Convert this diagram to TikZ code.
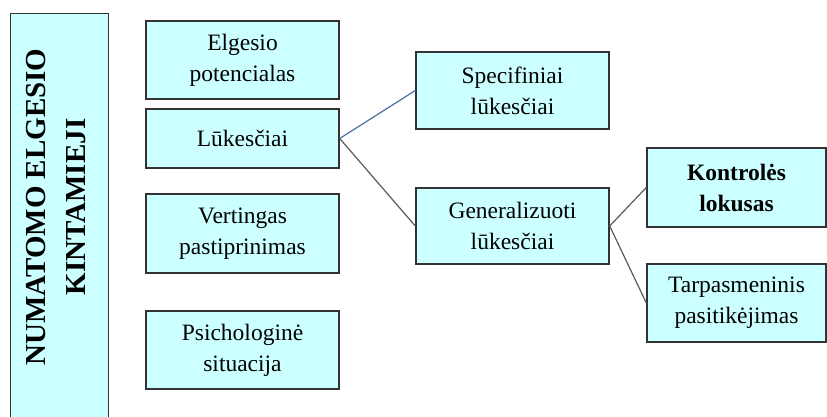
\documentclass[tikz,border=0pt]{standalone}
\usepackage{fontspec}
\setmainfont{Liberation Serif}
\definecolor{boxfill}{HTML}{CCFFFF}
\definecolor{boxline}{HTML}{333333}
\definecolor{blueline}{HTML}{4A6FA0}
\definecolor{grayline}{HTML}{5A5A5A}
\tikzset{
  cbox/.style={draw=boxline, fill=boxfill, line width=1.4pt, rectangle, align=center,
    inner sep=0pt, font=\fontsize{23.5}{31}\selectfont},
  wbox/.style={cbox, minimum width=193pt, minimum height=78pt},
  rbox/.style={cbox, minimum width=179pt, minimum height=78pt},
  link/.style={line width=1.2pt, draw=grayline},
  bluelink/.style={line width=1.2pt, draw=blueline}
}
\begin{document}
\begin{tikzpicture}[x=1pt,y=-1pt]
\useasboundingbox (0,0) rectangle (827,416);
\clip (0,0) rectangle (827,416);
\node[cbox, minimum width=98pt, minimum height=420pt, anchor=north west] (side) at (10,13) {};
\node[rotate=90, align=center, font=\fontsize{29}{40}\selectfont\bfseries] (sidetext) at (56,207) {NUMATOMO ELGESIO\\KINTAMIEJI};
\node[wbox] (elg) at (242.5,60) {Elgesio\\potencialas};
\node[wbox, minimum height=59pt] (luk) at (242.5,138.5) {Lūkesčiai};
\node[wbox, minimum height=79pt] (vert) at (242.5,233.5) {Vertingas\\pastiprinimas};
\node[wbox] (psi) at (242.5,350) {Psichologinė\\situacija};
\node[wbox, minimum height=77pt] (spec) at (512.5,90.5) {Specifiniai\\lūkesčiai};
\node[wbox, minimum height=76pt] (gen) at (512.5,226) {Generalizuoti\\lūkesčiai};
\node[rbox, minimum height=79pt] (kon) at (736.5,187.5) {\bfseries Kontrolės\\\bfseries lokusas};
\node[rbox] (tar) at (736.5,303) {Tarpasmeninis\\pasitikėjimas};
\draw[bluelink] (luk.east) -- (spec.west);
\draw[link] (luk.east) -- (gen.west);
\draw[link] (gen.east) -- (kon.west);
\draw[link] (gen.east) -- (tar.west);
\end{tikzpicture}
\end{document}
